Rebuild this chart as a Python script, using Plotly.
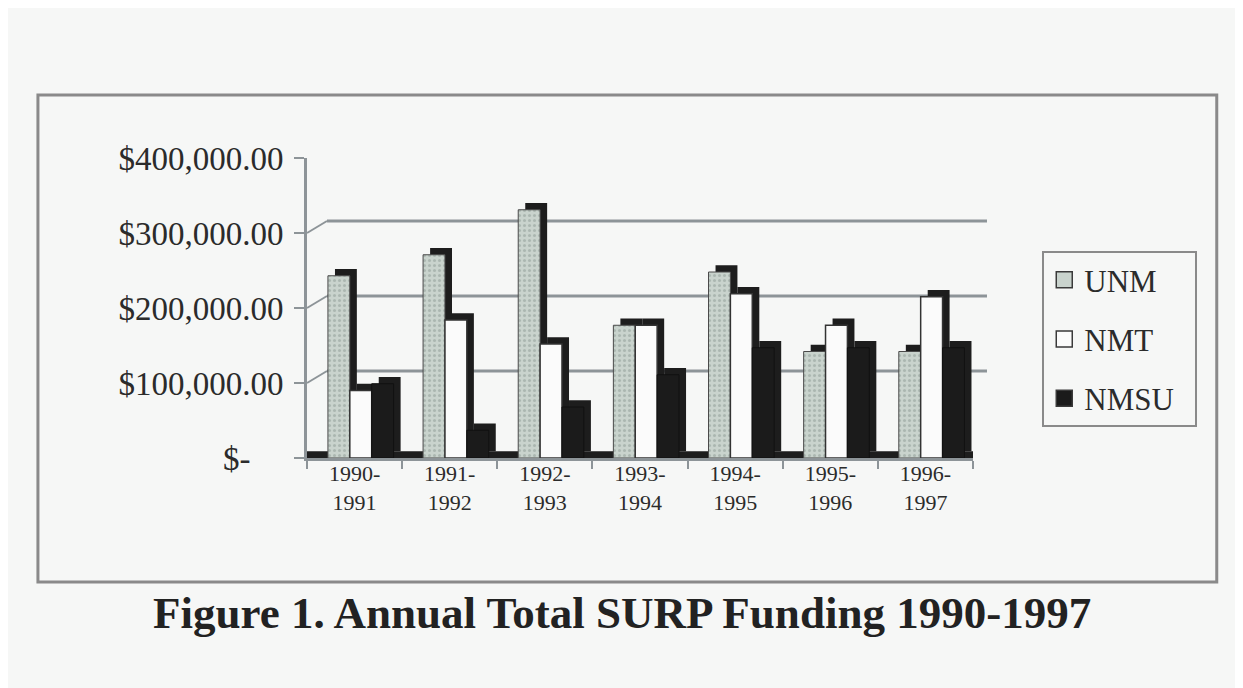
import plotly.graph_objects as go

# Annual SURP funding per institution
years = ["1990-1991", "1991-1992", "1992-1993", "1993-1994",
         "1994-1995", "1995-1996", "1996-1997"]
unm = [243000, 271000, 331000, 177000, 248000, 142000, 142000]
nmt = [90000, 184000, 152000, 177000, 219000, 177000, 215000]
nmsu = [99000, 37000, 68000, 111000, 147000, 147000, 147000]

y_ticks = [0, 100000, 200000, 300000, 400000]
y_labels = ["$-\u00a0\u00a0\u00a0\u00a0", "$100,000.00", "$200,000.00",
            "$300,000.00", "$400,000.00"]
x_labels = [y.replace("-", "-<br>") for y in years]

FONT = "Liberation Serif, Times New Roman, serif"
BG = "#f6f7f6"
SHADE = "#1d1d1d"
GRID = "#8d9498"

# fake 3D: each column gets a dark copy nudged up/right (top + side faces)
BAR_W = 0.23
DX = 0.074      # category units
DY = 9000       # dollars

series = [
    ("UNM", unm, "#c9d3cd",
     dict(color="#c9d3cd", line=dict(color="#4a4a4a", width=1),
          pattern=dict(shape=".", fgcolor="#8e9a94", size=5, solidity=0.3))),
    ("NMT", nmt, "#fbfbfb",
     dict(color="#fbfbfb", line=dict(color="#333333", width=1.5))),
    ("NMSU", nmsu, "#1b1b1b",
     dict(color="#1b1b1b", line=dict(color="#111111", width=1))),
]

fig = go.Figure()
for i, (name, vals, swatch, marker) in enumerate(series):
    off = -0.28 + i * BAR_W
    fig.add_trace(go.Bar(
        x=years, y=vals, base=DY, offset=off + DX, width=BAR_W,
        marker=dict(color=SHADE, line=dict(width=0)),
        showlegend=False, hoverinfo="skip", legendgroup=name,
    ))
    fig.add_trace(go.Bar(
        x=years, y=vals, offset=off, width=BAR_W, name=name,
        marker=marker, legendgroup=name, showlegend=False,
    ))
    # bigger square swatch for the legend (padded name widens the box)
    fig.add_trace(go.Scatter(
        x=[None], y=[None], mode="markers", name=name + "\u00a0\u00a0",
        legendgroup=name,
        marker=dict(symbol="square", size=16, color=swatch,
                    line=dict(color="#3a3a3a", width=1.5)),
    ))

# floor strip seen between clusters
shapes = [dict(type="rect", xref="paper", yref="y", x0=0, x1=1, y0=0, y1=DY,
               fillcolor=SHADE, line=dict(width=0), layer="below")]

# back-wall gridlines, lifted a little, with the slanted connectors
G_UP = 16000
G_X0 = 0.03
for v in y_ticks[1:-1]:
    shapes.append(dict(type="line", xref="paper", yref="y", x0=G_X0, x1=1.021,
                       y0=v + G_UP, y1=v + G_UP, layer="below",
                       line=dict(color=GRID, width=3)))
    shapes.append(dict(type="line", xref="paper", yref="y", x0=0, x1=G_X0,
                       y0=v, y1=v + G_UP, layer="below",
                       line=dict(color=GRID, width=2)))

# outer chart frame
shapes.append(dict(type="rect", xref="paper", yref="paper",
                   x0=-0.404, x1=1.366, y0=-0.413, y1=1.21,
                   line=dict(color="#8a8a8a", width=3)))

# page body has an 8px margin, so the figure is 8px smaller and shifted
fig.update_layout(
    width=1235,
    height=680,
    margin=dict(l=299, r=270, t=150, b=230),
    barmode="overlay",
    paper_bgcolor=BG,
    plot_bgcolor=BG,
    font=dict(family=FONT, color="#2b2b2b"),
    shapes=shapes,
    showlegend=True,
    legend=dict(
        x=1.104, y=0.69, xanchor="left", yanchor="top",
        bgcolor=BG, bordercolor="#8a8a8a", borderwidth=2,
        font=dict(family=FONT, size=31, color="#2b2b2b"),
        traceorder="grouped", tracegroupgap=16,
    ),
    annotations=[dict(
        text="<b>Figure 1. Annual Total SURP Funding 1990-1997</b>",
        xref="paper", yref="paper", x=0.473, y=-0.517,
        xanchor="center", yanchor="middle", showarrow=False,
        font=dict(family=FONT, size=45, color="#222222"),
    )],
)

fig.update_xaxes(
    type="category", range=[-0.5, 6.5],
    tickvals=years, ticktext=x_labels, tickson="boundaries",
    ticks="outside", ticklen=8, tickcolor=GRID, tickwidth=2,
    showline=True, linecolor=GRID, linewidth=3, showgrid=False,
    ticklabelstandoff=-6,
    tickfont=dict(family=FONT, size=22, color="#2b2b2b"),
)
fig.update_yaxes(
    range=[0, 400000], tickvals=y_ticks, ticktext=y_labels,
    ticks="outside", ticklen=10, tickcolor=GRID, tickwidth=2,
    showline=True, linecolor=GRID, linewidth=3, showgrid=False,
    zeroline=False, ticklabelstandoff=4,
    tickfont=dict(family=FONT, size=33, color="#2b2b2b"),
)

fig.write_html("out.html")
